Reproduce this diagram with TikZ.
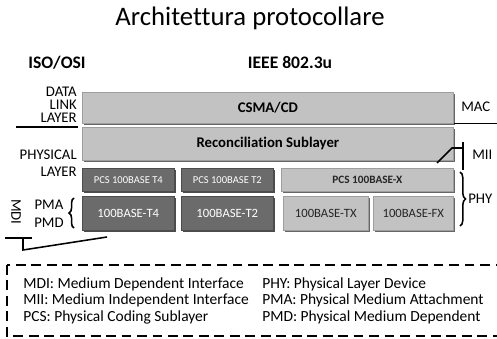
\documentclass[tikz,border=0pt]{standalone}
\usepackage{fontspec}
\setmainfont[Ligatures=NoCommon]{Carlito}
\usetikzlibrary{positioning,shadows,decorations.pathreplacing}
\tikzset{
    layerbox/.style={
    rectangle,draw=black!38,fill=black!24,inner sep=0pt,anchor=north west,
    drop shadow={shadow xshift=1.3pt,shadow yshift=-1.3pt,fill=black!60,opacity=1},
    font=\fontsize{10.5}{11}\selectfont\bfseries
    },
    darkcp/.style={
    rectangle,draw=black!70,fill=black!58,text=white,inner sep=0pt,anchor=north west,
    drop shadow={shadow xshift=1.3pt,shadow yshift=-1.3pt,fill=black!70,opacity=1},
    font=\fontsize{7.5}{8}\selectfont
    },
    lightcp/.style={
    rectangle,draw=black!38,fill=black!24,text=black!85,inner sep=0pt,anchor=north west,
    drop shadow={shadow xshift=1.3pt,shadow yshift=-1.3pt,fill=black!60,opacity=1},
    font=\fontsize{8}{8}\selectfont\bfseries
    },
    pmdfont/.style={
    font=\fontsize{9}{9}\selectfont
    },
    sidelabel/.style={
    font=\fontsize{10.5}{9.2}\selectfont,align=right,inner sep=0pt
    },
    heading/.style={
    font=\fontsize{12.5}{14}\selectfont\bfseries,inner sep=0pt
    },
    legendtxt/.style={
    font=\fontsize{11}{12}\selectfont,anchor=west,inner sep=0pt
    },
    sepline/.style={
    draw=black,line width=1.3pt
    },
    marker/.style={
    draw=black,line width=1.1pt
    },
}

\begin{document}
\begin{tikzpicture}[x=0.025cm,y=-0.025cm]
  \useasboundingbox (0,0) rectangle (497,339);

  \node[font=\fontsize{19}{20}\selectfont,inner sep=0pt] (title) at (250,18) {Architettura protocollare};
  \node[heading] (iso) at (57,63) {ISO/OSI};
  \node[heading] (ieee) at (290,63) {IEEE 802.3u};

  \node[layerbox,minimum width=9.275cm,minimum height=0.775cm] (csma) at (82,92) {CSMA/CD};
  \node[layerbox,minimum width=9.275cm,minimum height=0.825cm] (recon) at (82,127) {Reconciliation Sublayer};

  \node[darkcp,minimum width=2.3cm,minimum height=0.575cm] (pcsT4) at (82,168) {PCS 100BASE T4};
  \node[darkcp,minimum width=2.3cm,minimum height=0.575cm] (pcsT2) at (181,168) {PCS 100BASE T2};
  \node[lightcp,minimum width=4.3cm,minimum height=0.575cm] (pcsX) at (281,168) {PCS 100BASE-X};

  \node[darkcp,pmdfont,minimum width=2.3cm,minimum height=0.85cm] (pmdT4) at (82,196) {100BASE-T4};
  \node[darkcp,pmdfont,minimum width=2.3cm,minimum height=0.85cm] (pmdT2) at (181,196) {100BASE-T2};
  \node[lightcp,pmdfont,minimum width=2.125cm,minimum height=0.85cm] (pmdTX) at (283,196) {100BASE-TX};
  \node[lightcp,pmdfont,minimum width=2.0cm,minimum height=0.85cm] (pmdFX) at (373,196) {100BASE-FX};

  \node[sidelabel,anchor=east] (dll) at (77,105) {DATA\\LINK\\LAYER};
  \node[sidelabel,anchor=east] (phys) at (77,155) {PHYSICAL};
  \node[sidelabel,anchor=east] (physlayer) at (77,172) {LAYER};
  \node[sidelabel] (pma) at (49,205) {PMA};
  \node[sidelabel] (pmd) at (49,223) {PMD};
  \node[sidelabel,rotate=-90] (mdi) at (16,212) {MDI};
  \node[sidelabel,anchor=west] (mac) at (461,107) {MAC};
  \node[sidelabel,anchor=west] (mii) at (472,155) {MII};
  \node[sidelabel,anchor=west] (phy) at (468,199) {PHY};

  \coordinate (dllL) at (16,127);
  \coordinate (dllR) at (78,127);
  \coordinate (macR) at (497,124);
  \coordinate (miiTop) at (463,142);
  \coordinate (miiBot) at (463,170);
  \coordinate (miiJoin) at (452,148);
  \coordinate (miiEnd) at (437,163);
  \coordinate (mdiL) at (5,238);
  \coordinate (mdiR) at (32,238);
  \coordinate (mdiMid) at (23,238);
  \coordinate (mdiJoin) at (23,250);
  \coordinate (mdiEnd) at (107,237);

  \draw[sepline] (dllL) -- (dllR);
  \draw[marker] (csma.south east) -- (csma.south east -| macR);
  \draw[marker] (miiTop) -- (miiBot);
  \draw[marker] (miiEnd) -- (miiJoin) -- (miiJoin -| miiTop);
  \draw[marker] (mdiL) -- (mdiR);
  \draw[marker] (mdiMid) -- (mdiJoin) -- (mdiEnd);

  \draw[marker,decorate,decoration={brace,amplitude=3.5pt}] (74,228) -- (74,198);
  \draw[marker,decorate,decoration={brace,amplitude=4pt}] (460,172) -- (460,226);

  \draw[line width=1.3pt,dash pattern=on 7pt off 4pt] (7,265) rectangle (510,336);
  \node[legendtxt] (lmdi) at (23,284) {MDI: Medium Dependent Interface};
  \node[legendtxt] (lmii) at (23,300) {MII: Medium Independent Interface};
  \node[legendtxt] (lpcs) at (23,317) {PCS: Physical Coding Sublayer};
  \node[legendtxt] (lphy) at (262,284) {PHY: Physical Layer Device};
  \node[legendtxt] (lpma) at (262,300) {PMA: Physical Medium Attachment};
  \node[legendtxt] (lpmd) at (262,317) {PMD: Physical Medium Dependent};
\end{tikzpicture}
\end{document}
